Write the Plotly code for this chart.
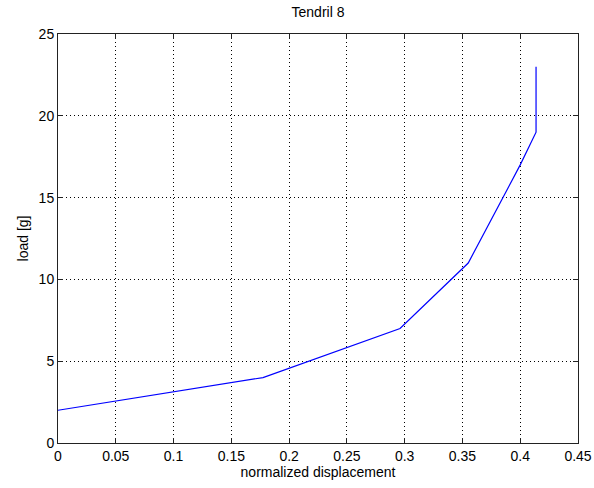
import plotly.graph_objects as go

displacement = [0.0, 0.1774, 0.296, 0.355, 0.400, 0.4137, 0.4137]
load = [2, 4, 7, 11, 17, 19, 23]

x_ticks = [0, 0.05, 0.1, 0.15, 0.2, 0.25, 0.3, 0.35, 0.4, 0.45]
x_tick_labels = ["0", "0.05", "0.1", "0.15", "0.2", "0.25", "0.3", "0.35", "0.4", "0.45"]
y_ticks = [0, 5, 10, 15, 20, 25]

FONT = "Liberation Sans, Arial, sans-serif"

fig = go.Figure()
fig.add_trace(go.Scatter(x=displacement, y=load, mode="lines",
                         line=dict(color="#0000ff", width=1.2), showlegend=False))

axis_common = dict(
    showline=True, linecolor="#222222", linewidth=1, mirror="allticks",
    ticks="inside", ticklen=5, tickcolor="#222222",
    showgrid=True, gridcolor="#000000", gridwidth=1, griddash="1px,3px",
    zeroline=False, automargin=False,
    tickfont=dict(family=FONT, size=14, color="#000000"),
)

fig.update_layout(
    width=594, height=488,
    margin=dict(l=58, r=16, t=34, b=45, autoexpand=False),
    paper_bgcolor="white", plot_bgcolor="white",
    font=dict(family=FONT, size=14, color="#000000"),
    title=dict(text="Tendril 8", x=0.5, xanchor="center", xref="paper",
               y=1 - 12 / 488, yref="container", yanchor="middle",
               font=dict(family=FONT, size=14, color="#000000")),
    xaxis=dict(range=[0, 0.45], tickvals=x_ticks, ticktext=x_tick_labels,
               title=dict(text="normalized displacement", standoff=4,
                          font=dict(family=FONT, size=14)),
               **axis_common),
    yaxis=dict(range=[0, 25], tickvals=y_ticks,
               title=dict(text="load [g]", standoff=6,
                          font=dict(family=FONT, size=14)),
               **axis_common),
)

fig.write_html("out.html")
